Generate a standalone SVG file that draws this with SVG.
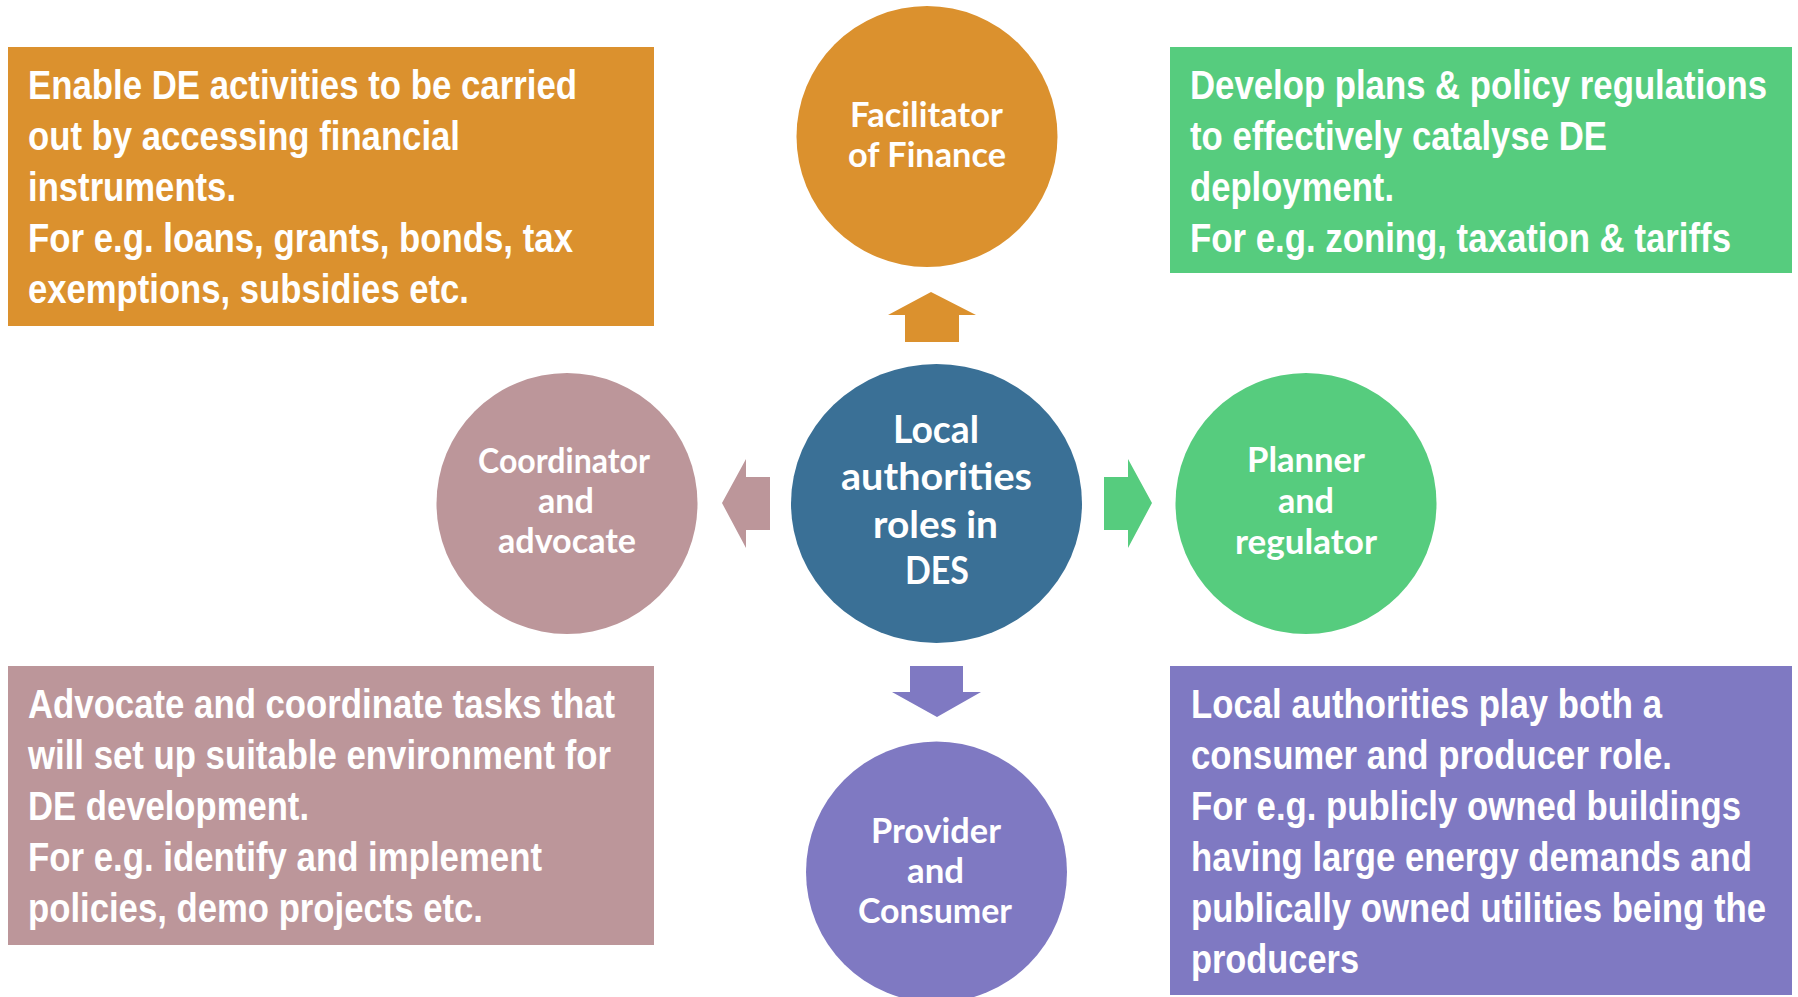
<svg xmlns="http://www.w3.org/2000/svg" width="1798" height="997" viewBox="0 0 1798 997">
<style>
.bt{font-family:"Liberation Sans",Arial,sans-serif;font-weight:bold;font-size:41px;fill:#fff}
.ct{font-family:Lato,"Open Sans",sans-serif;font-weight:bold;font-size:34px;fill:#fff}
.cc{font-family:Lato,"Open Sans",sans-serif;font-weight:bold;font-size:38px;fill:#fff}
.or{fill:#DB912E}.gr{fill:#56CC7E}.pk{fill:#BC969A}.pu{fill:#7F79C2}.bl{fill:#3A7096}
</style>
<rect width="1798" height="997" fill="#fff"/>

<g id="box-finance">
<rect class="or" x="8" y="47" width="646" height="279"/>
<g transform="translate(28,0) scale(0.82,1)">
<text class="bt" x="0" y="99" textLength="669.5" lengthAdjust="spacingAndGlyphs">Enable DE activities to be carried</text>
<text class="bt" x="0" y="150" textLength="526.8" lengthAdjust="spacingAndGlyphs">out by accessing financial</text>
<text class="bt" x="0" y="201" textLength="253.7" lengthAdjust="spacingAndGlyphs">instruments.</text>
<text class="bt" x="0" y="252" textLength="664.6" lengthAdjust="spacingAndGlyphs">For e.g. loans, grants, bonds, tax</text>
<text class="bt" x="0" y="303" textLength="537.8" lengthAdjust="spacingAndGlyphs">exemptions, subsidies etc.</text>
</g>
</g>

<g id="box-planner">
<rect class="gr" x="1170" y="47" width="622" height="226"/>
<g transform="translate(1190,0) scale(0.82,1)">
<text class="bt" x="0" y="99" textLength="703.7" lengthAdjust="spacingAndGlyphs">Develop plans &amp; policy regulations</text>
<text class="bt" x="0" y="150" textLength="508.5" lengthAdjust="spacingAndGlyphs">to effectively catalyse DE</text>
<text class="bt" x="0" y="201" textLength="248.8" lengthAdjust="spacingAndGlyphs">deployment.</text>
<text class="bt" x="0" y="252" textLength="659.8" lengthAdjust="spacingAndGlyphs">For e.g. zoning, taxation &amp; tariffs</text>
</g>
</g>

<g id="box-coordinator">
<rect class="pk" x="8" y="666" width="646" height="279"/>
<g transform="translate(28,0) scale(0.82,1)">
<text class="bt" x="0" y="718" textLength="715.9" lengthAdjust="spacingAndGlyphs">Advocate and coordinate tasks that</text>
<text class="bt" x="0" y="769" textLength="711" lengthAdjust="spacingAndGlyphs">will set up suitable environment for</text>
<text class="bt" x="0" y="820" textLength="342.7" lengthAdjust="spacingAndGlyphs">DE development.</text>
<text class="bt" x="0" y="871" textLength="626.8" lengthAdjust="spacingAndGlyphs">For e.g. identify and implement</text>
<text class="bt" x="0" y="922" textLength="554.9" lengthAdjust="spacingAndGlyphs">policies, demo projects etc.</text>
</g>
</g>

<g id="box-provider">
<rect class="pu" x="1170" y="666" width="622" height="329"/>
<g transform="translate(1191,0) scale(0.82,1)">
<text class="bt" x="0" y="718" textLength="574.4" lengthAdjust="spacingAndGlyphs">Local authorities play both a</text>
<text class="bt" x="0" y="769" textLength="586.6" lengthAdjust="spacingAndGlyphs">consumer and producer role.</text>
<text class="bt" x="0" y="820" textLength="670.7" lengthAdjust="spacingAndGlyphs">For e.g. publicly owned buildings</text>
<text class="bt" x="0" y="871" textLength="684.1" lengthAdjust="spacingAndGlyphs">having large energy demands and</text>
<text class="bt" x="0" y="922" textLength="701.2" lengthAdjust="spacingAndGlyphs">publically owned utilities being the</text>
<text class="bt" x="0" y="973" textLength="204.9" lengthAdjust="spacingAndGlyphs">producers</text>
</g>
</g>

<g id="connectors">
<polygon class="or" points="931,292 976,315 959,315 959,342 905,342 905,315 888,315"/>
<polygon class="pk" points="722,503 746,459 746,477 770,477 770,530 746,530 746,548"/>
<polygon class="gr" points="1152,503 1128,459 1128,477 1104,477 1104,530 1128,530 1128,548"/>
<polygon class="pu" points="937,717 981,692 963,692 963,666 910,666 910,692 892,692"/>
</g>

<g id="node-center">
<ellipse class="bl" cx="936.5" cy="503.5" rx="145.5" ry="139.5"/>
<text class="cc" x="893" y="443" textLength="86" lengthAdjust="spacingAndGlyphs">Local</text>
<text class="cc" x="841" y="490" textLength="191" lengthAdjust="spacingAndGlyphs">authorities</text>
<text class="cc" x="873" y="538" textLength="125" lengthAdjust="spacingAndGlyphs">roles in</text>
<text class="cc" x="905" y="584" textLength="64" lengthAdjust="spacingAndGlyphs">DES</text>
</g>

<g id="node-facilitator">
<circle class="or" cx="927" cy="136.5" r="130.5"/>
<text class="ct" x="850" y="127" textLength="153" lengthAdjust="spacingAndGlyphs">Facilitator</text>
<text class="ct" x="848" y="167" textLength="158" lengthAdjust="spacingAndGlyphs">of Finance</text>
</g>

<g id="node-coordinator">
<circle class="pk" cx="567" cy="503.5" r="130.5"/>
<text class="ct" x="478" y="473" textLength="172" lengthAdjust="spacingAndGlyphs">Coordinator</text>
<text class="ct" x="538" y="513" textLength="56" lengthAdjust="spacingAndGlyphs">and</text>
<text class="ct" x="498" y="553" textLength="138" lengthAdjust="spacingAndGlyphs">advocate</text>
</g>

<g id="node-planner">
<circle class="gr" cx="1306" cy="503.5" r="130.5"/>
<text class="ct" x="1247" y="472" textLength="118" lengthAdjust="spacingAndGlyphs">Planner</text>
<text class="ct" x="1278" y="513" textLength="56" lengthAdjust="spacingAndGlyphs">and</text>
<text class="ct" x="1235" y="554" textLength="142" lengthAdjust="spacingAndGlyphs">regulator</text>
</g>

<g id="node-provider">
<circle class="pu" cx="936.5" cy="872" r="130.5"/>
<text class="ct" x="871" y="843" textLength="130" lengthAdjust="spacingAndGlyphs">Provider</text>
<text class="ct" x="907" y="883" textLength="57" lengthAdjust="spacingAndGlyphs">and</text>
<text class="ct" x="858" y="923" textLength="154" lengthAdjust="spacingAndGlyphs">Consumer</text>
</g>
</svg>
